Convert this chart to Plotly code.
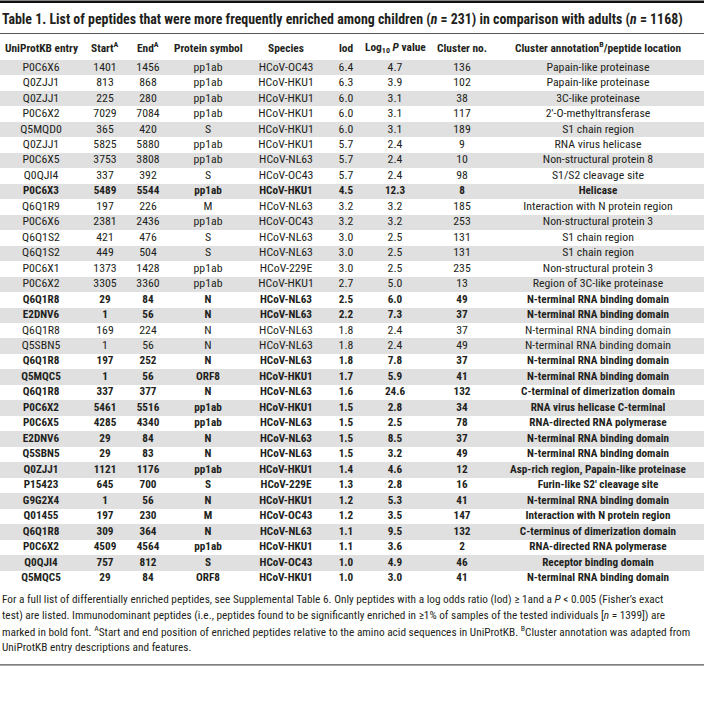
import plotly.graph_objects as go

entries = ["P0C6X6", "Q0ZJJ1", "Q0ZJJ1", "P0C6X2", "Q5MQD0", "Q0ZJJ1", "P0C6X5", "Q0QJI4",
           "P0C6X3", "Q6Q1R9", "P0C6X6", "Q6Q1S2", "Q6Q1S2", "P0C6X1", "P0C6X2", "Q6Q1R8",
           "E2DNV6", "Q6Q1R8", "Q5SBN5", "Q6Q1R8", "Q5MQC5", "Q6Q1R8", "P0C6X2", "P0C6X5",
           "E2DNV6", "Q5SBN5", "Q0ZJJ1", "P15423", "G9G2X4", "Q01455", "Q6Q1R8", "P0C6X2",
           "Q0QJI4", "Q5MQC5"]
starts = [1401, 813, 225, 7029, 365, 5825, 3753, 337, 5489, 197, 2381, 421, 449, 1373, 3305, 29,
          1, 169, 1, 197, 1, 337, 5461, 4285, 29, 29, 1121, 645, 1, 197, 309, 4509, 757, 29]
ends = [1456, 868, 280, 7084, 420, 5880, 3808, 392, 5544, 226, 2436, 476, 504, 1428, 3360, 84,
        56, 224, 56, 252, 56, 377, 5516, 4340, 84, 83, 1176, 700, 56, 230, 364, 4564, 812, 84]
proteins = ["pp1ab", "pp1ab", "pp1ab", "pp1ab", "S", "pp1ab", "pp1ab", "S", "pp1ab", "M", "pp1ab",
            "S", "S", "pp1ab", "pp1ab", "N", "N", "N", "N", "N", "ORF8", "N", "pp1ab", "pp1ab",
            "N", "N", "pp1ab", "S", "N", "M", "N", "pp1ab", "S", "ORF8"]
species = ["HCoV-OC43", "HCoV-HKU1", "HCoV-HKU1", "HCoV-HKU1", "HCoV-HKU1", "HCoV-HKU1",
           "HCoV-NL63", "HCoV-OC43", "HCoV-HKU1", "HCoV-NL63", "HCoV-OC43", "HCoV-NL63",
           "HCoV-NL63", "HCoV-229E", "HCoV-HKU1", "HCoV-NL63", "HCoV-NL63", "HCoV-NL63",
           "HCoV-NL63", "HCoV-NL63", "HCoV-HKU1", "HCoV-NL63", "HCoV-HKU1", "HCoV-NL63",
           "HCoV-NL63", "HCoV-NL63", "HCoV-HKU1", "HCoV-229E", "HCoV-HKU1", "HCoV-OC43",
           "HCoV-NL63", "HCoV-HKU1", "HCoV-OC43", "HCoV-HKU1"]
lods = [6.4, 6.3, 6.0, 6.0, 6.0, 5.7, 5.7, 5.7, 4.5, 3.2, 3.2, 3.0, 3.0, 3.0, 2.7, 2.5, 2.2,
        1.8, 1.8, 1.8, 1.7, 1.6, 1.5, 1.5, 1.5, 1.5, 1.4, 1.3, 1.2, 1.2, 1.1, 1.1, 1.0, 1.0]
log_p = [4.7, 3.9, 3.1, 3.1, 3.1, 2.4, 2.4, 2.4, 12.3, 3.2, 3.2, 2.5, 2.5, 2.5, 5.0, 6.0, 7.3,
         2.4, 2.4, 7.8, 5.9, 24.6, 2.8, 2.5, 8.5, 3.2, 4.6, 2.8, 5.3, 3.5, 9.5, 3.6, 4.9, 3.0]
clusters = [136, 102, 38, 117, 189, 9, 10, 98, 8, 185, 253, 131, 131, 235, 13, 49, 37, 37, 49,
            37, 41, 132, 34, 78, 37, 49, 12, 16, 41, 147, 132, 2, 46, 41]
cluster_annotations = ["Papain-like proteinase", "Papain-like proteinase", "3C-like proteinase",
                       "2\u2032-O-methyltransferase", "S1 chain region", "RNA virus helicase",
                       "Non-structural protein 8", "S1/S2 cleavage site", "Helicase",
                       "Interaction with N protein region", "Non-structural protein 3",
                       "S1 chain region", "S1 chain region", "Non-structural protein 3",
                       "Region of 3C-like proteinase", "N-terminal RNA binding domain",
                       "N-terminal RNA binding domain", "N-terminal RNA binding domain",
                       "N-terminal RNA binding domain", "N-terminal RNA binding domain",
                       "N-terminal RNA binding domain", "C-terminal of dimerization domain",
                       "RNA virus helicase C-terminal", "RNA-directed RNA polymerase",
                       "N-terminal RNA binding domain", "N-terminal RNA binding domain",
                       "Asp-rich region, Papain-like proteinase", "Furin-like S2\u2032 cleavage site",
                       "N-terminal RNA binding domain", "Interaction with N protein region",
                       "C-terminus of dimerization domain", "RNA-directed RNA polymerase",
                       "Receptor binding domain", "N-terminal RNA binding domain"]
bold_rows = [False] * 8 + [True] + [False] * 6 + [True, True, False, False] + [True] * 15

headers = ["UniProtKB entry", "Start<sup>A</sup>", "End<sup>A</sup>", "Protein symbol", "Species",
           "lod", "Log<sub>10</sub> <i>P</i> value", "Cluster no.",
           "Cluster annotation<sup>B</sup>/peptide location"]

# ---- layout configuration (pixel geometry of the page) ----
W, H = 704, 714
TOP, BOTTOM = 59.5, 586          # pixel rows spanned by the table body
COL_X = [41, 105, 148, 208, 286, 346, 395, 462, 598]   # column centres (x axis = px)
FONT = "Roboto Condensed, Liberation Sans Narrow, Arial Narrow, DejaVu Sans Condensed, Roboto, sans-serif"
TXT = "#231f20"
GRAY = "#e0e0e0"
SIZE_REG, SIZE_BOLD = 11.8, 11.2


def py(p):
    """pixel row -> paper y"""
    return (BOTTOM - p) / (BOTTOM - TOP)


def fmt(vals, decimals=None):
    out = []
    for v, b in zip(vals, bold_rows):
        s = f"{v:.{decimals}f}" if decimals is not None else str(v)
        out.append(f"<b>{s}</b>" if b else s)
    return out


columns = [fmt(entries), fmt(starts), fmt(ends), fmt(proteins), fmt(species),
           fmt(lods, 1), fmt(log_p, 1), fmt(clusters), fmt(cluster_annotations)]
sizes = [SIZE_BOLD if b else SIZE_REG for b in bold_rows]

n = len(entries)
rows = list(range(n))
shaded = [r for r in rows if r % 2 == 0]

fig = go.Figure()
fig.add_trace(go.Bar(orientation="h", y=shaded, x=[W] * len(shaded), base=0, width=1,
                     marker=dict(color=GRAY, line=dict(width=0)), hoverinfo="skip",
                     showlegend=False))
for cx, col in zip(COL_X, columns):
    fig.add_trace(go.Scatter(x=[cx] * n, y=rows, text=col, mode="text",
                             textposition="middle center",
                             textfont=dict(family=FONT, size=sizes, color=TXT),
                             hoverinfo="skip", showlegend=False))

ann = []
for cx, h in zip(COL_X, headers):
    ann.append(dict(text=f"<b>{h}</b>", x=cx, y=py(47), xref="x", yref="paper",
                    xanchor="center", yanchor="middle", showarrow=False,
                    font=dict(family=FONT, size=11.4, color=TXT)))

title = ("<b>Table 1. List of peptides that were more frequently enriched among children "
         "(<i>n</i> = 231) in comparison with adults (<i>n</i> = 1168)</b>")
ann.append(dict(text=title, x=0, y=py(19), xref="paper", yref="paper", xanchor="left",
                yanchor="middle", showarrow=False, font=dict(family=FONT, size=13.9, color=TXT)))

foot = [
    "For a full list of differentially enriched peptides, see Supplemental Table 6. Only peptides with a log odds ratio (lod) \u2265 1and a <i>P</i> &lt; 0.005 (Fisher\u2019s exact",
    "test) are listed. Immunodominant peptides (i.e., peptides found to be significantly enriched in \u22651% of samples of the tested individuals [<i>n</i> = 1399]) are",
    "marked in bold font. <sup>A</sup>Start and end position of enriched peptides relative to the amino acid sequences in UniProtKB. <sup>B</sup>Cluster annotation was adapted from",
    "UniProtKB entry descriptions and features.",
]
foot_y = [600, 616, 632, 648]
for t, yy in zip(foot, foot_y):
    ann.append(dict(text=t, x=0, y=py(yy), xref="paper", yref="paper", xanchor="left",
                    yanchor="middle", showarrow=False, font=dict(family=FONT, size=11.3, color=TXT)))

shapes = [
    dict(type="rect", xref="paper", yref="paper", x0=0, x1=1, y0=py(2.5), y1=py(0),
         fillcolor="#111111", line=dict(width=0)),
    dict(type="line", xref="paper", yref="paper", x0=0, x1=1, y0=py(33), y1=py(33),
         line=dict(color="#555555", width=1)),
    dict(type="line", xref="paper", yref="paper", x0=0, x1=1, y0=py(665), y1=py(665),
         line=dict(color="#555555", width=1.2)),
]

fig.update_layout(width=W, height=H,
                  margin=dict(l=0, r=0, t=TOP, b=H - BOTTOM, pad=0),
                  paper_bgcolor="white", plot_bgcolor="white",
                  xaxis=dict(range=[0, W], visible=False, fixedrange=True),
                  yaxis=dict(range=[n - 0.5, -0.5], visible=False, fixedrange=True),
                  bargap=0, annotations=ann, shapes=shapes)

fig.write_html("out.html", config={"displayModeBar": False},
               post_script="document.body.style.margin='0';document.body.style.padding='0';")
